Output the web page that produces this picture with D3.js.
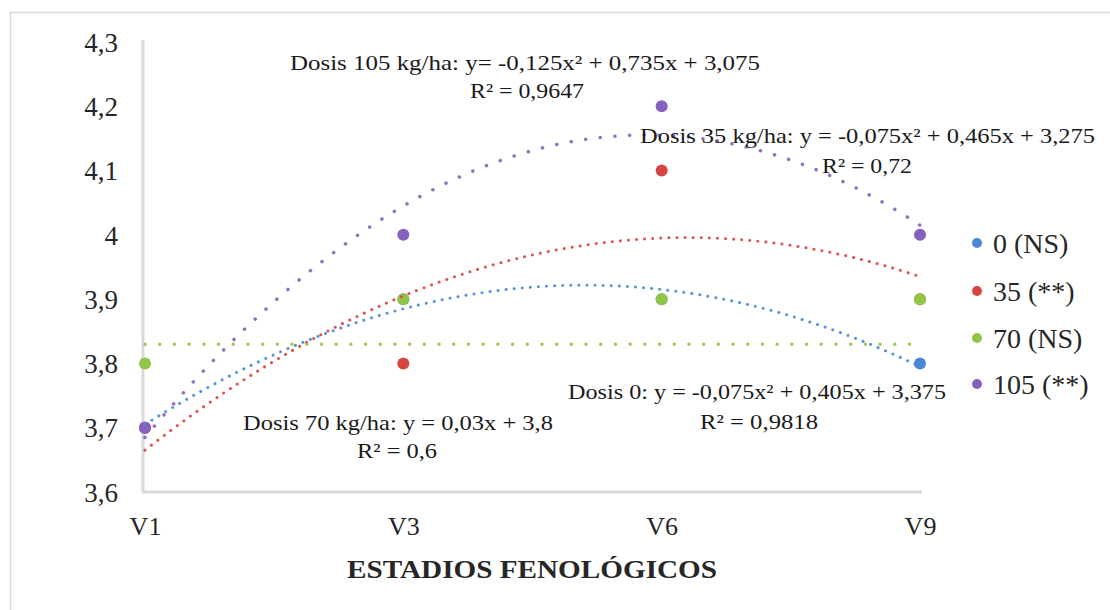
<!DOCTYPE html>
<html><head><meta charset="utf-8">
<script src="https://cdn.jsdelivr.net/npm/d3@7"></script>
<style>body{margin:0;background:#fff;} svg{display:block;font-family:"Liberation Serif","Times New Roman",serif;}</style>
</head><body>
<svg id="c" width="1110" height="610"></svg>
<script>
// ---- data ----
const stages = ["V1", "V3", "V6", "V9"];
const yTicks = [3.6, 3.7, 3.8, 3.9, 4.0, 4.1, 4.2, 4.3];
const seriesNames = ["0 (NS)", "35 (**)", "70 (NS)", "105 (**)"];
const dose0   = [3.7, 3.9, 3.9, 3.8];
const dose35  = [3.7, 3.8, 4.1, 3.9];
const dose70  = [3.8, 3.9, 3.9, 3.9];
const dose105 = [3.7, 4.0, 4.2, 4.0];
// trendline coefficients (y = a x^2 + b x + c, x = 1..4); dose 70 drawn flat as in the figure
const trendA = [-0.075, -0.075, 0, -0.125];
const trendB = [0.405, 0.465, 0, 0.735];
const trendC = [3.375, 3.275, 3.83, 3.075];
const colors = ["#4a88d4", "#d64541", "#92c447", "#8660bf"];
const annotations = [
  {l1: "Dosis 105 kg/ha: y= -0,125x² + 0,735x + 3,075", l2: "R² = 0,9647"},
  {l1: "Dosis 35 kg/ha: y = -0,075x² + 0,465x + 3,275", l2: "R² = 0,72"},
  {l1: "Dosis 0: y = -0,075x² + 0,405x + 3,375", l2: "R² = 0,9818"},
  {l1: "Dosis 70 kg/ha: y = 0,03x + 3,8", l2: "R² = 0,6"}
];
const xTitle = "ESTADIOS FENOLÓGICOS";
const seriesData = [dose0, dose35, dose70, dose105];

// ---- layout ----
const svg = d3.select("#c");
const x = d3.scalePoint().domain(stages).range([145, 920]);
const xt = d3.scaleLinear().domain([1, 4]).range([145, 920]);
const y = d3.scaleLinear().domain([3.6, 4.3]).range([492, 42]);

// outer frame
svg.append("path").attr("d", "M10.5,610 V12.5 H1110").attr("fill", "none").attr("stroke", "#d9d9d9").attr("stroke-width", 1.5);

// axes lines
svg.append("line").attr("x1", 143).attr("x2", 143).attr("y1", 40).attr("y2", 493)
  .attr("stroke", "#d9d9d9").attr("stroke-width", 3);
svg.append("line").attr("x1", 142).attr("x2", 922).attr("y1", 492).attr("y2", 492)
  .attr("stroke", "#d9d9d9").attr("stroke-width", 3);

// y tick labels
const yAxis = d3.axisLeft(y).tickValues(yTicks).tickSize(0).tickPadding(0)
  .tickFormat(d => d3.format(".1f")(d).replace(".", ",").replace(/^4,0$/, "4"));
const gy = svg.append("g").attr("transform", "translate(118,0)").call(yAxis);
gy.select(".domain").remove();
gy.selectAll("text").attr("font-family", "Liberation Serif").attr("font-size", 27).attr("fill", "#262626").attr("dy", "0.34em");

// x tick labels
const xAxis = d3.axisBottom(x).tickSize(0).tickPadding(0);
const gx = svg.append("g").attr("transform", "translate(0,535)").call(xAxis);
gx.select(".domain").remove();
gx.selectAll("text").attr("font-family", "Liberation Serif").attr("font-size", 26).attr("fill", "#262626").attr("dy", 0);

// x title
svg.append("text").attr("x", 532).attr("y", 578).attr("text-anchor", "middle")
  .attr("font-size", 25).attr("font-weight", "bold").attr("fill", "#262626")
  .attr("textLength", 370).attr("lengthAdjust", "spacingAndGlyphs").text(xTitle);

// points (order: 0, 35, 70, 105)
seriesData.forEach((vals, i) => {
  svg.append("g").selectAll("circle").data(vals).join("circle")
    .attr("cx", (d, j) => x(stages[j])).attr("cy", d => y(d)).attr("r", 6)
    .attr("fill", colors[i]);
});

// trendlines
const tSamples = d3.range(1, 4.0001, 0.05);
const dashes = ["0.1 8", "0.1 8", "0.1 14.6", "0.1 14.6"];
const widths = [3, 3, 3.5, 3.5];
seriesData.forEach((vals, i) => {
  const line = d3.line().x(t => xt(t)).y(t => y(trendA[i] * t * t + trendB[i] * t + trendC[i])).curve(d3.curveLinear);
  svg.append("path").attr("d", line(tSamples)).attr("fill", "none")
    .attr("stroke", colors[i]).attr("stroke-width", widths[i]).attr("stroke-linecap", "round")
    .attr("stroke-dasharray", dashes[i]).attr("opacity", 0.9);
});

// annotations
const annPos = [
  {x1: 290, w1: 470, b1: 70, cx2: 527, w2: 114, b2: 98},
  {x1: 640, w1: 455, b1: 143, cx2: 867, w2: 90, b2: 173},
  {x1: 568, w1: 378, b1: 399, cx2: 759, w2: 118, b2: 429},
  {x1: 243, w1: 310, b1: 430, cx2: 397, w2: 80, b2: 458}
];
annotations.forEach((a, i) => {
  const p = annPos[i];
  svg.append("text").attr("x", p.x1).attr("y", p.b1).attr("font-size", 21).attr("fill", "#1a1a1a")
    .attr("textLength", p.w1).attr("lengthAdjust", "spacingAndGlyphs").text(a.l1);
  svg.append("text").attr("x", p.cx2 - p.w2 / 2).attr("y", p.b2).attr("font-size", 21).attr("fill", "#1a1a1a")
    .attr("textLength", p.w2).attr("lengthAdjust", "spacingAndGlyphs").text(a.l2);
});

// legend
const legY = [243, 291, 338, 384];
const leg = svg.append("g");
seriesNames.forEach((n, i) => {
  leg.append("circle").attr("cx", 977).attr("cy", legY[i]).attr("r", 5).attr("fill", colors[i]);
  leg.append("text").attr("x", 993).attr("y", legY[i]).attr("dy", "0.35em").attr("font-size", 28)
    .attr("fill", "#262626").text(n);
});
</script>
</body></html>
